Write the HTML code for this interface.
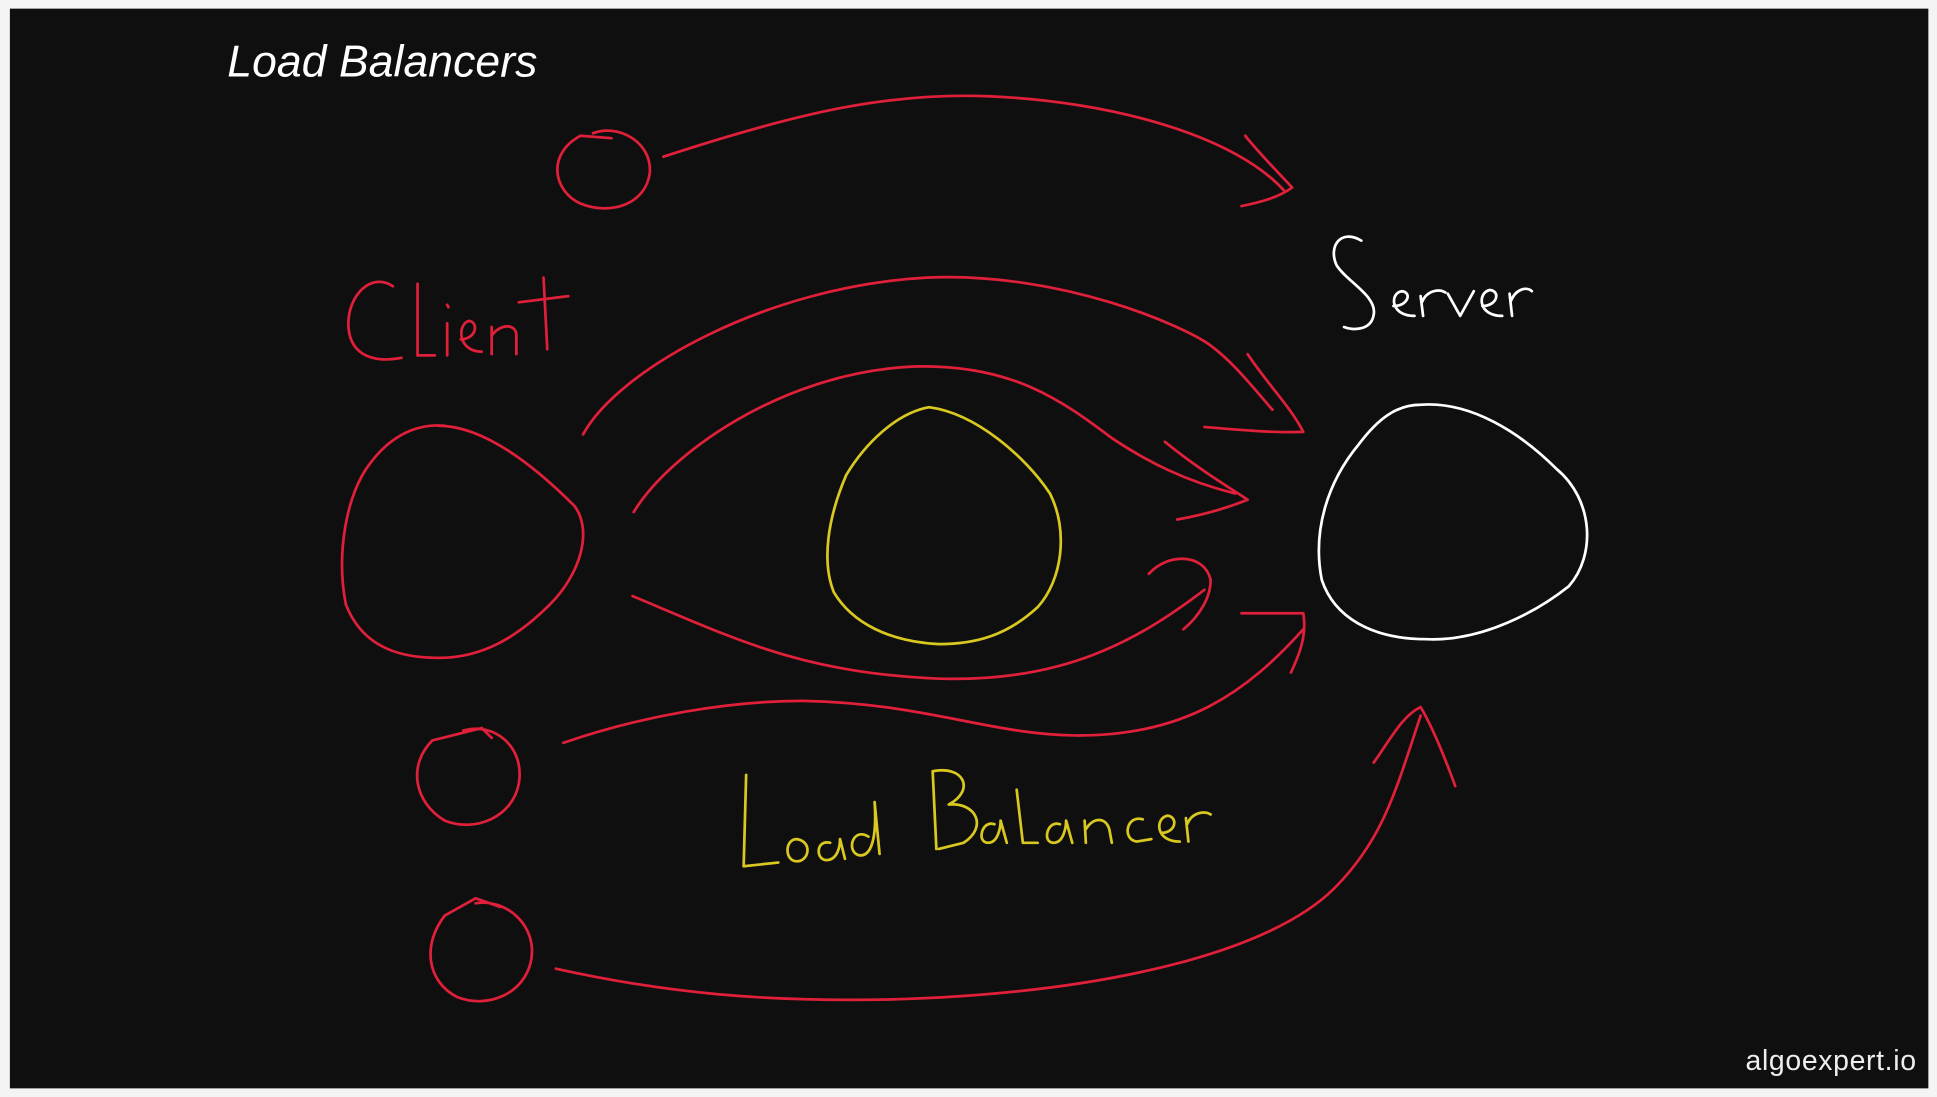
<!DOCTYPE html>
<html><head><style>
html,body{margin:0;padding:0;background:#fff;}
svg{display:block;}
</style></head><body>
<svg width="1937" height="1097" viewBox="0 0 1568 889" preserveAspectRatio="none" xmlns="http://www.w3.org/2000/svg">
<rect x="0" y="0" width="1568" height="889" fill="#f4f4f4"/>
<rect x="8" y="7" width="1553" height="875" fill="#0f0f0f"/>
<text x="184" y="62" font-family="Liberation Sans, sans-serif" font-style="italic" font-size="36" fill="#fff" textLength="251">Load Balancers</text>
<text x="1413" y="867" font-family="Liberation Sans, sans-serif" font-size="23" fill="#eee" textLength="138">algoexpert.io</text>
<g fill="none" stroke="#e0203a" stroke-width="2.2" stroke-linecap="round" stroke-linejoin="round">
<path d="M480 108 C500 100 528 115 526 140 C523 165 495 175 470 165 C448 155 442 125 470 110 L495 112"/>
<path d="M375 592 C400 585 425 605 420 635 C415 662 385 675 360 665 C335 650 330 620 350 600 L390 590 L398 598"/>
<path d="M385 732 C410 728 435 750 430 778 C425 805 395 818 370 808 C345 795 342 765 360 742 L385 728 L405 735"/>
<path d="M355 345 C390 345 430 375 465 410 C480 430 470 465 445 490 C420 515 390 535 350 533 C310 532 290 515 280 490 C272 450 280 400 300 375 C315 355 335 343 360 345"/>
<path d="M318 232 C300 220 282 240 282 262 C282 285 298 295 325 290"/>
<path d="M338 230 L338 288 L352 288"/>
<path d="M362 262 L362 288 M362 247 L363 249"/>
<path d="M373 275 C385 275 388 262 380 260 C370 262 370 285 390 285"/>
<path d="M398 265 L398 287 M398 272 C405 262 418 262 418 272 L418 287"/>
<path d="M440 225 L443 283 M420 245 L460 240"/>
<path d="M537 127 C650 90 720 75 800 78 C900 82 1000 110 1040 155"/>
<path d="M1008 110 C1020 125 1035 140 1046 152 C1035 160 1020 164 1005 167"/>
<path d="M472 352 C500 300 620 232 750 225 C860 220 960 265 980 280 C1000 295 1015 315 1030 332"/>
<path d="M1010 287 C1025 310 1045 330 1055 350 C1030 351 1000 348 975 346"/>
<path d="M513 415 C540 370 630 302 740 297 C820 295 860 325 900 355 C930 375 960 390 1000 400"/>
<path d="M943 358 C970 380 995 395 1010 405 C990 413 970 418 953 421"/>
<path d="M512 483 C600 520 650 545 760 550 C860 553 920 520 975 478"/>
<path d="M930 465 C945 448 975 448 980 470 C980 485 970 500 958 510"/>
<path d="M456 602 C520 580 590 568 650 568 C750 570 800 595 870 596 C960 597 1010 560 1055 510"/>
<path d="M1005 497 L1055 497 C1058 515 1052 530 1045 545"/>
<path d="M450 785 C540 805 620 812 720 810 C900 805 1030 770 1080 720 C1120 680 1130 640 1150 580"/>
<path d="M1112 618 C1125 600 1135 580 1150 573 C1160 590 1170 615 1178 637"/>
</g>
<g fill="none" stroke="#d9c820" stroke-width="2.2" stroke-linecap="round" stroke-linejoin="round">
<path d="M752 330 C790 335 830 370 850 400 C865 430 860 470 840 492 C815 515 790 522 760 522 C720 520 690 505 675 480 C665 455 670 420 685 385 C700 360 725 335 752 330"/>
<path d="M604 628 L602 702 L630 699"/>
<path d="M645 680 C635 680 635 698 645 698 C655 698 658 682 645 680"/>
<path d="M672 683 C660 680 660 698 670 697 C678 696 680 686 680 680 L684 696"/>
<path d="M703 678 C690 670 685 690 695 693 C705 695 710 680 708 650 L712 692"/>
<path d="M755 625 L758 688 M755 625 C780 620 790 640 768 652 C790 650 800 670 780 683 L760 688"/>
<path d="M805 668 C795 664 790 683 800 683 C808 683 810 670 810 665 L815 683"/>
<path d="M823 640 L828 683 L840 683"/>
<path d="M858 668 C848 664 843 683 853 683 C861 683 863 670 863 665 L868 683"/>
<path d="M878 665 L879 683 M879 672 C885 662 895 662 898 672 L900 683"/>
<path d="M925 664 C912 660 908 680 920 682 L932 680"/>
<path d="M940 675 C952 675 954 662 945 661 C935 663 935 682 955 682"/>
<path d="M960 663 L962 682 M961 668 C965 658 975 657 980 660"/>
</g>
<g fill="none" stroke="#fff" stroke-width="2.2" stroke-linecap="round" stroke-linejoin="round">
<path d="M1150 328 C1190 325 1230 350 1260 380 C1290 405 1292 450 1270 475 C1245 495 1200 520 1155 518 C1110 518 1080 500 1070 470 C1062 430 1075 390 1100 360 C1115 340 1130 328 1150 328"/>
<path d="M1102 195 C1085 185 1075 200 1082 215 C1090 228 1115 240 1112 255 C1110 268 1095 268 1088 265"/>
<path d="M1128 248 C1140 248 1143 237 1135 236 C1125 237 1125 256 1145 256"/>
<path d="M1150 240 L1152 256 M1151 245 C1155 235 1165 234 1170 237"/>
<path d="M1172 238 L1182 256 L1193 236"/>
<path d="M1200 248 C1212 248 1215 236 1206 235 C1196 237 1196 256 1216 256"/>
<path d="M1222 238 L1224 256 M1223 244 C1227 234 1236 232 1240 236"/>
</g>
</svg>
</body></html>
